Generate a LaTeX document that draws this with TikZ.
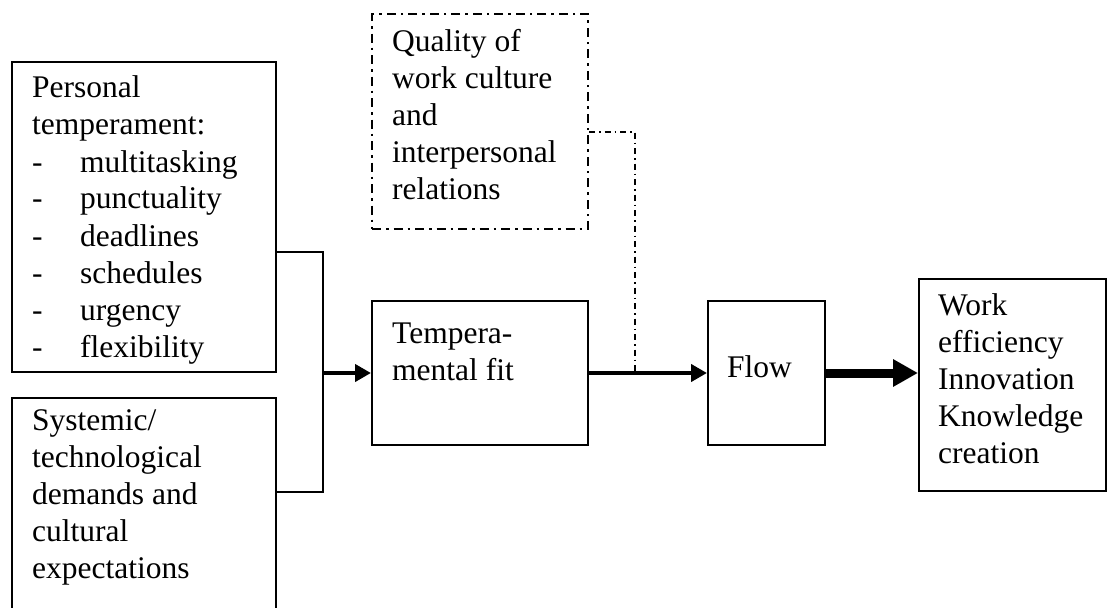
\documentclass[tikz,border=0pt]{standalone}
\usepackage{fontspec}
\setmainfont{Liberation Serif}
\usetikzlibrary{arrows.meta}
\begin{document}
\begin{tikzpicture}[x=1pt,y=-1pt,
  box/.style={draw, line width=2pt, anchor=north west, inner sep=0pt},
  txt/.style={anchor=base west, inner sep=0pt, font=\fontsize{31.5}{37}\selectfont},
  link/.style={line width=2pt},
  arrowthin/.style={line width=4pt, -{Triangle[length=16pt,width=17pt]}},
  arrowthick/.style={line width=9pt, -{Triangle[length=25pt,width=26pt]}},
  dashdot/.style={line width=2.2pt, dash pattern=on 9pt off 5pt on 2.5pt off 5pt},
  dotline/.style={line width=1.3pt, dash pattern=on 6pt off 4pt on 1.5pt off 4pt}]
\useasboundingbox (0,0) rectangle (1107,607);

% boxes
\node[box, minimum width=264pt, minimum height=310pt] (pers) at (11,61) {};
\node[box, minimum width=264pt, minimum height=260pt] (sys) at (11,397) {};
\node[box, dashdot, minimum width=216pt, minimum height=215pt] (qual) at (371,13) {};
\node[box, minimum width=216pt, minimum height=144pt] (fit) at (371,300) {};
\node[box, minimum width=117pt, minimum height=144pt] (flow) at (707,300) {};
\node[box, minimum width=187pt, minimum height=212pt] (out) at (918,278) {};

% texts
\node[txt] (perst) at (32,98) {\parbox[t]{240pt}{Personal\\temperament:\\
\makebox[48pt][l]{-}multitasking\\
\makebox[48pt][l]{-}punctuality\\
\makebox[48pt][l]{-}deadlines\\
\makebox[48pt][l]{-}schedules\\
\makebox[48pt][l]{-}urgency\\
\makebox[48pt][l]{-}flexibility}};
\node[txt] (syst) at (32,430) {\parbox[t]{240pt}{Systemic/\\technological\\demands and\\cultural\\expectations}};
\node[txt] (qualt) at (392,52) {\parbox[t]{190pt}{Quality of\\work culture\\and\\interpersonal\\relations}};
\node[txt] (fitt) at (392,343) {\parbox[t]{190pt}{Tempera-\\mental fit}};
\node[txt] (flowt) at (727,377) {Flow};
\node[txt] (outt) at (938,315) {\parbox[t]{165pt}{Work\\efficiency\\Innovation\\Knowledge\\creation}};

% bracket joining the two left boxes
\coordinate (bt) at (323,252);
\coordinate (bb) at (323,492);
\draw[link] (bt -| pers.east) -- (bt) -- (bb) -- (bb -| sys.east);
\draw[arrowthin] (bt |- fit.west) -- (fit.west);

% dotted influence of work culture
\coordinate (dq) at (635,132);
\draw[dotline] (dq -| qual.east) -- (dq) -- (dq |- fit.east);

% main flow
\draw[arrowthin] (fit.east) -- (flow.west);
\draw[arrowthick] (flow.east) -- (flow.east -| out.west);
\end{tikzpicture}
\end{document}
